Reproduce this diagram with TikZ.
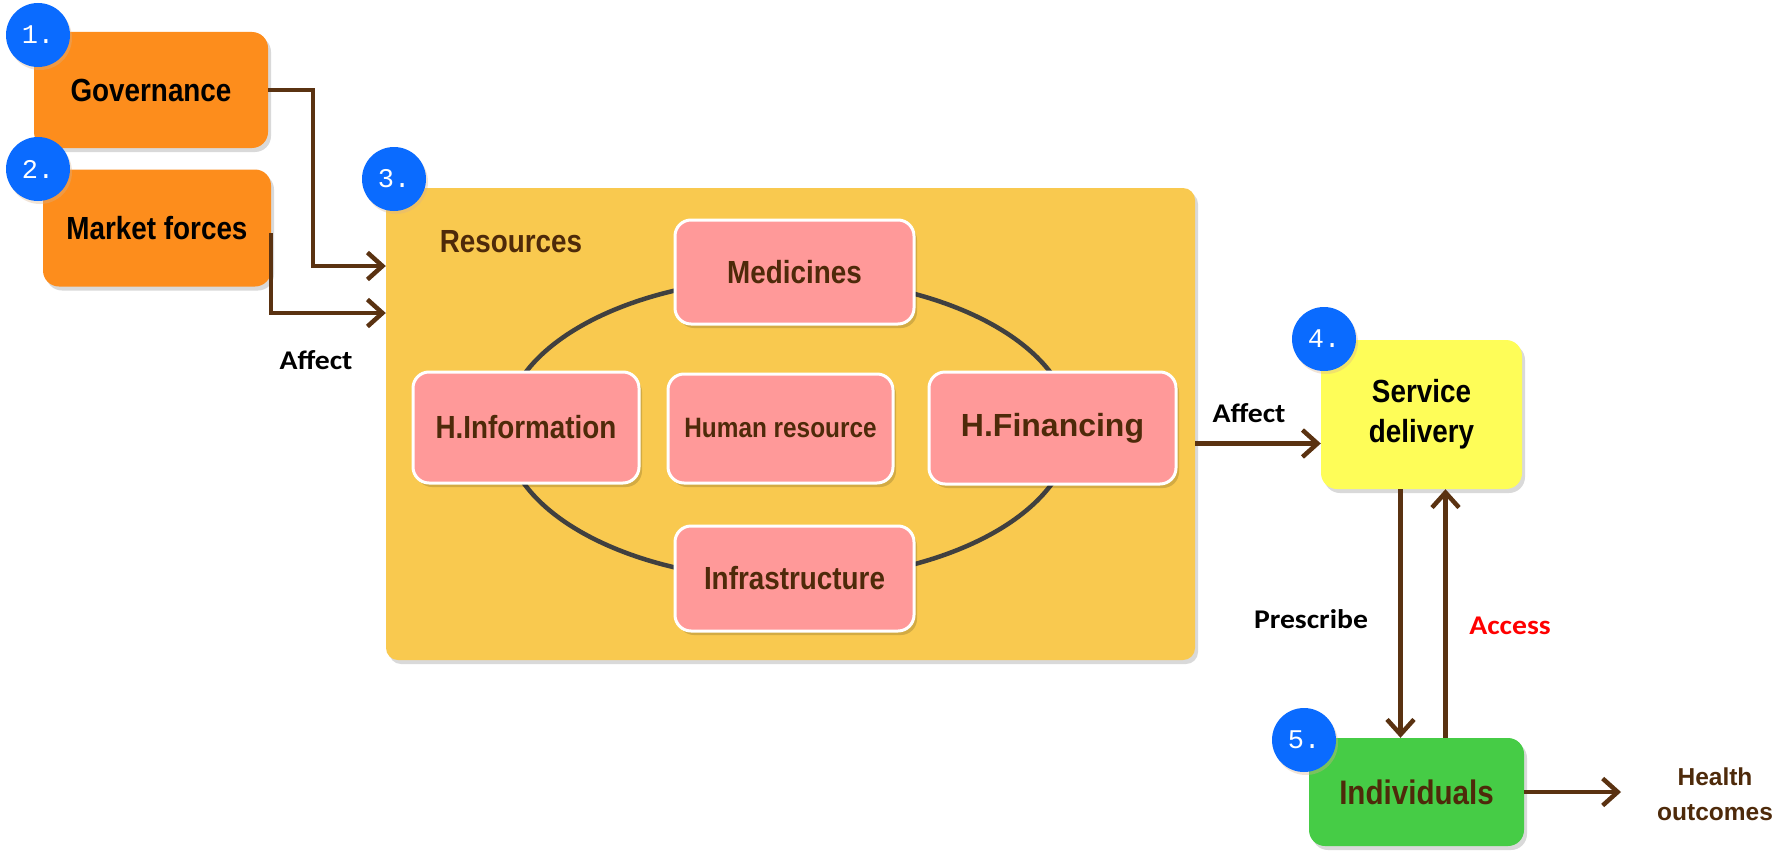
\documentclass[tikz,border=0pt]{standalone}
\usepackage{fontspec}
\setmainfont{Liberation Sans}
\newfontfamily\boxfont{Liberation Sans}[FakeStretch=0.87]
\newfontfamily\lblfont{Carlito}[FakeStretch=1.1]
\newfontfamily\numfont{Liberation Mono}
\usetikzlibrary{arrows.meta,shadows}
\definecolor{orangebox}{HTML}{FD8D1C}
\definecolor{resbox}{HTML}{F9C94F}
\definecolor{pinkbox}{HTML}{FF9999}
\definecolor{yellowbox}{HTML}{FEFD58}
\definecolor{greenbox}{HTML}{46CC46}
\definecolor{arrowbrown}{HTML}{5A3211}
\definecolor{textbrown}{HTML}{4E2A0A}
\definecolor{badgeblue}{HTML}{0A6BFF}
\definecolor{ringgray}{HTML}{404040}
\begin{document}
\begin{tikzpicture}[x=1pt,y=-1pt,
  shadowed/.style={drop shadow={opacity=0.15, shadow xshift=3pt, shadow yshift=-4pt, fill=black}},
  box/.style={shadowed, rounded corners=16pt, inner sep=0pt, align=center,
    font=\boxfont\bfseries\fontsize{32}{40}\selectfont},
  orangebox/.style={box, fill=orangebox, text=black},
  pinkbox/.style={box, fill=pinkbox, draw=white, line width=3pt, text=textbrown},
  badge/.style={circle, fill=badgeblue, minimum size=64pt, inner sep=0pt, text=white,
    font=\numfont\fontsize{27}{27}\selectfont,
    drop shadow={opacity=0.35, shadow xshift=2pt, shadow yshift=-3pt, fill=brown!60}},
  arr/.style={draw=arrowbrown, line width=4.5pt, -{Straight Barb[length=15pt,width=27pt]}},
  lbl/.style={font=\lblfont\bfseries\fontsize{27}{30}\selectfont, inner sep=0pt},
]
\useasboundingbox[fill=white] (0,0) rectangle (1790,851);

% Resources container
\node[box, fill=resbox, rounded corners=12pt, minimum width=809pt, minimum height=472pt] (res) at (790.5,424) {};
\node[font=\boxfont\bfseries\fontsize{32}{40}\selectfont, text=textbrown, inner sep=0pt] (reslbl) at (511,242) {Resources};
\draw[ringgray, line width=4.5pt] (788,429) ellipse [x radius=283, y radius=151];

% resource boxes
\node[pinkbox, minimum width=239pt, minimum height=104pt] (med) at (794.5,272) {Medicines};
\node[pinkbox, minimum width=226pt, minimum height=111pt] (hinfo) at (526,427.5) {H.Information};
\node[pinkbox, minimum width=225pt, minimum height=109pt, font=\boxfont\bfseries\fontsize{28}{30}\selectfont] (hr) at (780.5,428.5) {Human resource};
\node[pinkbox, minimum width=247pt, minimum height=112pt, font=\rmfamily\bfseries\fontsize{32}{40}\selectfont] (hfin) at (1052.5,428) {H.Financing};
\node[pinkbox, minimum width=239pt, minimum height=105pt] (infra) at (794.5,578.5) {Infrastructure};

% left boxes
\node[orangebox, minimum width=234pt, minimum height=116pt] (gov) at (151,90) {Governance};
\node[orangebox, minimum width=228pt, minimum height=117pt] (mf) at (157,228) {Market forces};

% right boxes
\node[box, fill=yellowbox, text=black, minimum width=201pt, minimum height=149pt] (sd) at (1421.5,414.5) {Service\\delivery};
\node[box, fill=greenbox, text=textbrown, minimum width=215pt, minimum height=108pt, font=\boxfont\bfseries\fontsize{34}{40}\selectfont] (ind) at (1416.5,792) {Individuals};
\node[font=\rmfamily\bfseries\fontsize{24.5}{35}\selectfont, text=textbrown, align=center, inner sep=0pt] (ho) at (1715,794) {Health\\outcomes};
\coordinate (hoend) at (1621,792);

% connectors
\draw[arr] (gov.east) -- ++(45,0) |- ([yshift=158pt]res.west);
\draw[arr] ([yshift=-5pt]mf.east) |- ([yshift=111pt]res.west);
\draw[arr] ([yshift=-29pt]sd.west -| res.east) -- ([yshift=-29pt]sd.west);
\draw[arr] ([xshift=-21pt]sd.south) -- ([xshift=-21pt]sd.south |- ind.north);
\draw[arr] ([xshift=24pt]sd.south |- ind.north) -- ([xshift=24pt]sd.south);
\draw[arr] (ind.east) -- (hoend);

% labels
\node[lbl, text=black] (aff1) at (316,360) {Affect};
\node[lbl, text=black] (aff2) at (1249,413) {Affect};
\node[lbl, text=black] (presc) at (1311,619) {Prescribe};
\node[lbl, text=red] (acc) at (1510,626) {Access};

% badges
\node[badge] (b1) at (38,35) {1.};
\node[badge] (b2) at (38,169) {2.};
\node[badge] (b3) at (394,179) {3.};
\node[badge] (b4) at (1324,339) {4.};
\node[badge] (b5) at (1304,740) {5.};
\end{tikzpicture}
\end{document}
